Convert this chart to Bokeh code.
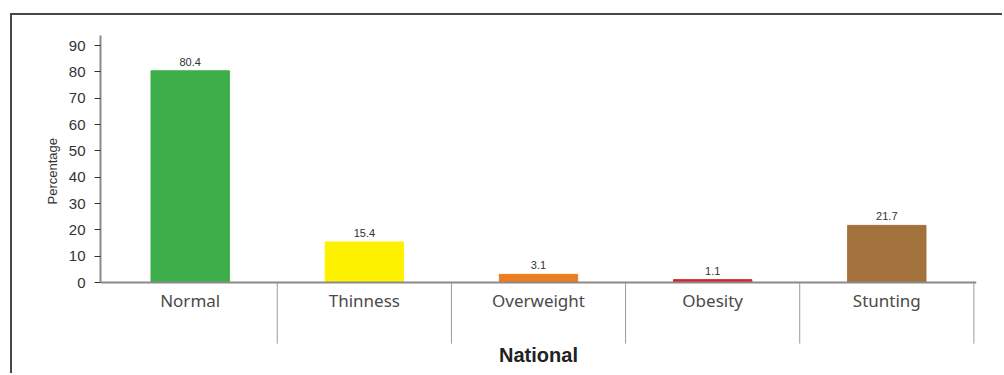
from bokeh.plotting import figure
from bokeh.models import FactorRange, ColumnDataSource, FixedTicker, Title
from bokeh.transform import dodge
from bokeh.embed import file_html
from bokeh.resources import INLINE
from bokeh.core.properties import value

# Nutritional status, national level (percent)
categories = ["Normal", "Thinness", "Overweight", "Obesity", "Stunting"]
percentages = [80.4, 15.4, 3.1, 1.1, 21.7]
bar_colors = ["#3DAE49", "#FFF200", "#EE7D22", "#D7262C", "#A2713C"]
y_ticks = [0, 10, 20, 30, 40, 50, 60, 70, 80, 90]
group_name = "National"
y_title = "Percentage"

src = ColumnDataSource(dict(
    cat=categories,
    pct=percentages,
    color=bar_colors,
    label=[f"{v:.1f}" for v in percentages],
))

x_range = FactorRange(*categories, range_padding=0.015, range_padding_units="absolute")

# the frame runs down to the bottom edge so the baseline axis, its
# separators and the group name all live inside it
p = figure(
    x_range=x_range,
    y_range=(-35.3, 93.8),
    width=992,
    height=360,
    output_backend="svg",
    toolbar_location=None,
    min_border_left=88,
    min_border_top=20,
    min_border_right=28,
    min_border_bottom=0,
)
p.margin = (13, 0, 0, 10)
p.styles = {"border-top": "2px solid #474747", "border-left": "2px solid #474747"}
p.outline_line_color = None
p.xgrid.visible = False
p.ygrid.visible = False
p.background_fill_color = "white"
p.border_fill_color = "white"

# bars
p.vbar(x="cat", top="pct", bottom=0, width=0.45, color="color", source=src)

# category separators hanging below the baseline
sep_x = dodge("cat", 0.5, range=x_range)
p.segment(x0=sep_x, y0=0, x1=sep_x, y1=-23.2, source=src,
          line_color="#9a9a9a", line_width=1)

# value labels
p.text(x="cat", y="pct", text="label", source=src, y_offset=-5,
       text_align="center", text_baseline="bottom",
       text_font=value("Liberation Sans"), text_font_size="11px",
       text_color="#333333")

# x axis sits on the zero line
xa = p.xaxis[0]
xa.fixed_location = 0
xa.axis_line_color = "#8a8a8a"
xa.axis_line_width = 2
xa.major_tick_line_color = None
xa.minor_tick_line_color = None
xa.major_label_standoff = 0
xa.major_label_text_font = "Noto Sans"
xa.major_label_text_font_size = "17px"
xa.major_label_text_color = "#4a4a4a"
xa.axis_label = group_name
xa.axis_label_text_font = "Liberation Sans"
xa.axis_label_text_font_style = "bold"
xa.axis_label_text_font_size = "20px"
xa.axis_label_text_color = "#222222"
xa.axis_label_standoff = 29

ya = p.yaxis[0]
ya.ticker = FixedTicker(ticks=y_ticks)
ya.bounds = (0, 93.8)
ya.axis_line_color = "#8a8a8a"
ya.axis_line_width = 2
ya.major_tick_line_color = "#333333"
ya.major_tick_out = 6
ya.major_tick_in = 0
ya.minor_tick_line_color = None
ya.major_label_standoff = 9
ya.major_label_text_font = "Liberation Sans"
ya.major_label_text_font_size = "15px"
ya.major_label_text_color = "#333333"

# y title as a side title, placed along the positive part of the axis
p.add_layout(Title(
    text=y_title, align="left", offset=171, standoff=12,
    text_font="Liberation Sans", text_font_size="13px",
    text_font_style="normal", text_color="#333333",
), "left")

open("out.html", "w").write(file_html(p, INLINE))
